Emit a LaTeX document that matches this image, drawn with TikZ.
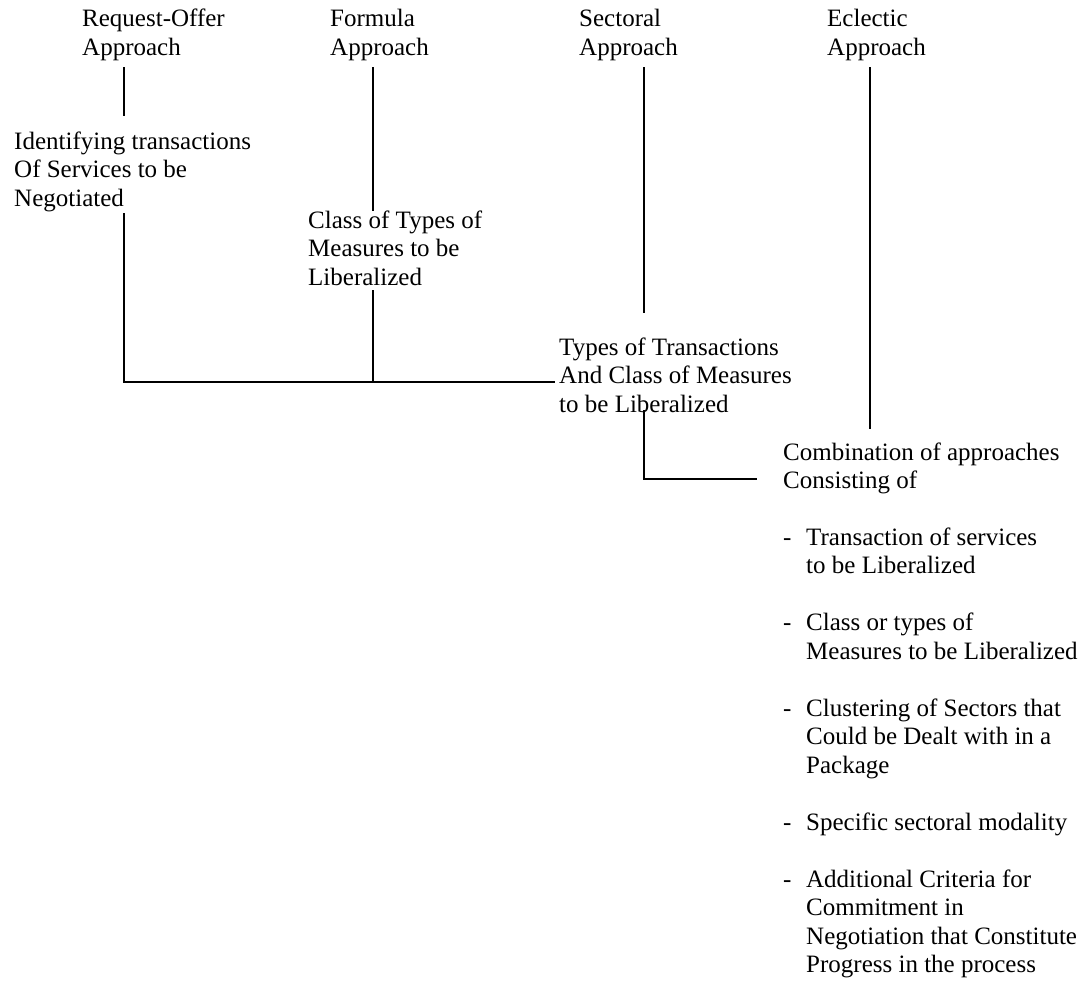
\documentclass[tikz,border=0pt]{standalone}
\usepackage{fontspec}
\setmainfont{Liberation Serif}
\newcommand{\dashitem}{\makebox[23pt][l]{-}}
\newcommand{\indentitem}{\hspace*{23pt}}
\begin{document}
\begin{tikzpicture}[x=1pt,y=-1pt,
  txt/.style={anchor=base west, inner sep=0pt, font=\fontsize{25}{28.8}\selectfont},
  listtxt/.style={txt, font=\fontsize{25}{28.5}\selectfont},
  conn/.style={line width=1.6pt, line cap=rect}]
\useasboundingbox (0,0) rectangle (1086,985);

% headings
\node[txt] (ro) at (82,27) {\begin{tabular}[t]{@{}l@{}}Request-Offer\\Approach\end{tabular}};
\node[txt] (fa) at (330,27) {\begin{tabular}[t]{@{}l@{}}Formula\\Approach\end{tabular}};
\node[txt] (sa) at (579,27) {\begin{tabular}[t]{@{}l@{}}Sectoral\\Approach\end{tabular}};
\node[txt] (ea) at (827,27) {\begin{tabular}[t]{@{}l@{}}Eclectic\\Approach\end{tabular}};

% second level
\node[txt] (id) at (14,149) {\begin{tabular}[t]{@{}l@{}}Identifying transactions\\Of Services to be\\Negotiated\end{tabular}};
\node[txt] (ct) at (308,228) {\begin{tabular}[t]{@{}l@{}}Class of Types of\\Measures to be\\Liberalized\end{tabular}};
\node[txt] (tt) at (559,355) {\begin{tabular}[t]{@{}l@{}}Types of Transactions\\And Class of Measures\\to be Liberalized\end{tabular}};
\node[txt] (co) at (783,460) {\begin{tabular}[t]{@{}l@{}}Combination of approaches\\Consisting of\end{tabular}};
\node[listtxt] (li) at (783,545) {\begin{tabular}[t]{@{}l@{}}
\dashitem Transaction of services\\
\indentitem to be Liberalized\\
\\
\dashitem Class or types of\\
\indentitem Measures to be Liberalized\\
\\
\dashitem Clustering of Sectors that\\
\indentitem Could be Dealt with in a\\
\indentitem Package\\
\\
\dashitem Specific sectoral modality\\
\\
\dashitem Additional Criteria for\\
\indentitem Commitment in\\
\indentitem Negotiation that Constitute\\
\indentitem Progress in the process
\end{tabular}};

% connector end points
\coordinate (roB) at (124,68);
\coordinate (idT) at (124,115);
\coordinate (faB) at (373,68);
\coordinate (ctT) at (373,210);
\coordinate (saB) at (644,68);
\coordinate (ttT) at (644,312);
\coordinate (eaB) at (870,68);
\coordinate (coT) at (870,428);
\coordinate (idB) at (124,214);
\coordinate (ctB) at (373,291);
\coordinate (ttL) at (554,382);
\coordinate (ttB) at (644,411);
\coordinate (coL) at (756,479);

\draw[conn] (roB) -- (idT);
\draw[conn] (faB) -- (ctT);
\draw[conn] (saB) -- (ttT);
\draw[conn] (eaB) -- (coT);
\draw[conn] (idB) |- (ttL);
\draw[conn] (ctB) -- (ctB |- ttL);
\draw[conn] (ttB) |- (coL);
\end{tikzpicture}
\end{document}
